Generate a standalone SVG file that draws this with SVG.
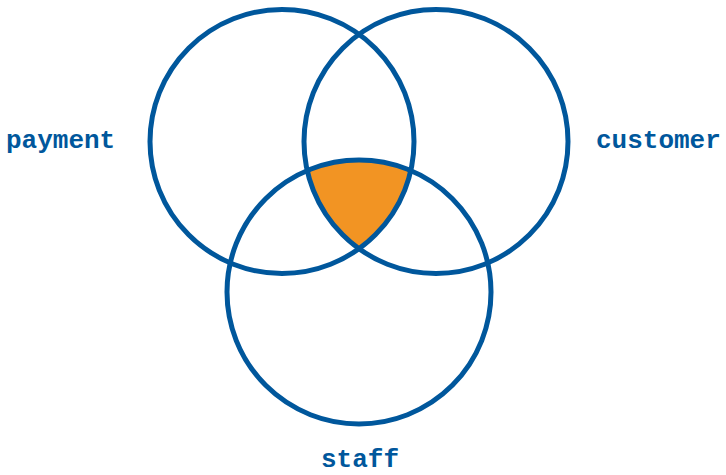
<svg xmlns="http://www.w3.org/2000/svg" width="726" height="475" viewBox="0 0 726 475">
<style>
.c{fill:none;stroke:#00579c;stroke-width:5}
.t{font-family:"Liberation Mono","Courier New",monospace;font-weight:bold;font-size:26px;fill:#00579c}
</style>
<rect width="726" height="475" fill="#fff"/>
<g id="overlap">
<path d="M307.2,170.6 A132,132 0 0,1 410.8,170.6 A132,132 0 0,1 359,248.7 A132,132 0 0,1 307.2,170.6 Z" fill="#f29423"/>
</g>
<g id="payment">
<circle class="c" cx="282" cy="141.5" r="132"/>
<text class="t" x="6" y="148">payment</text>
</g>
<g id="customer">
<circle class="c" cx="436" cy="141.5" r="132"/>
<text class="t" x="596" y="148">customer</text>
</g>
<g id="staff">
<circle class="c" cx="359" cy="292" r="132"/>
<text class="t" x="360" y="467" text-anchor="middle">staff</text>
</g>
</svg>
